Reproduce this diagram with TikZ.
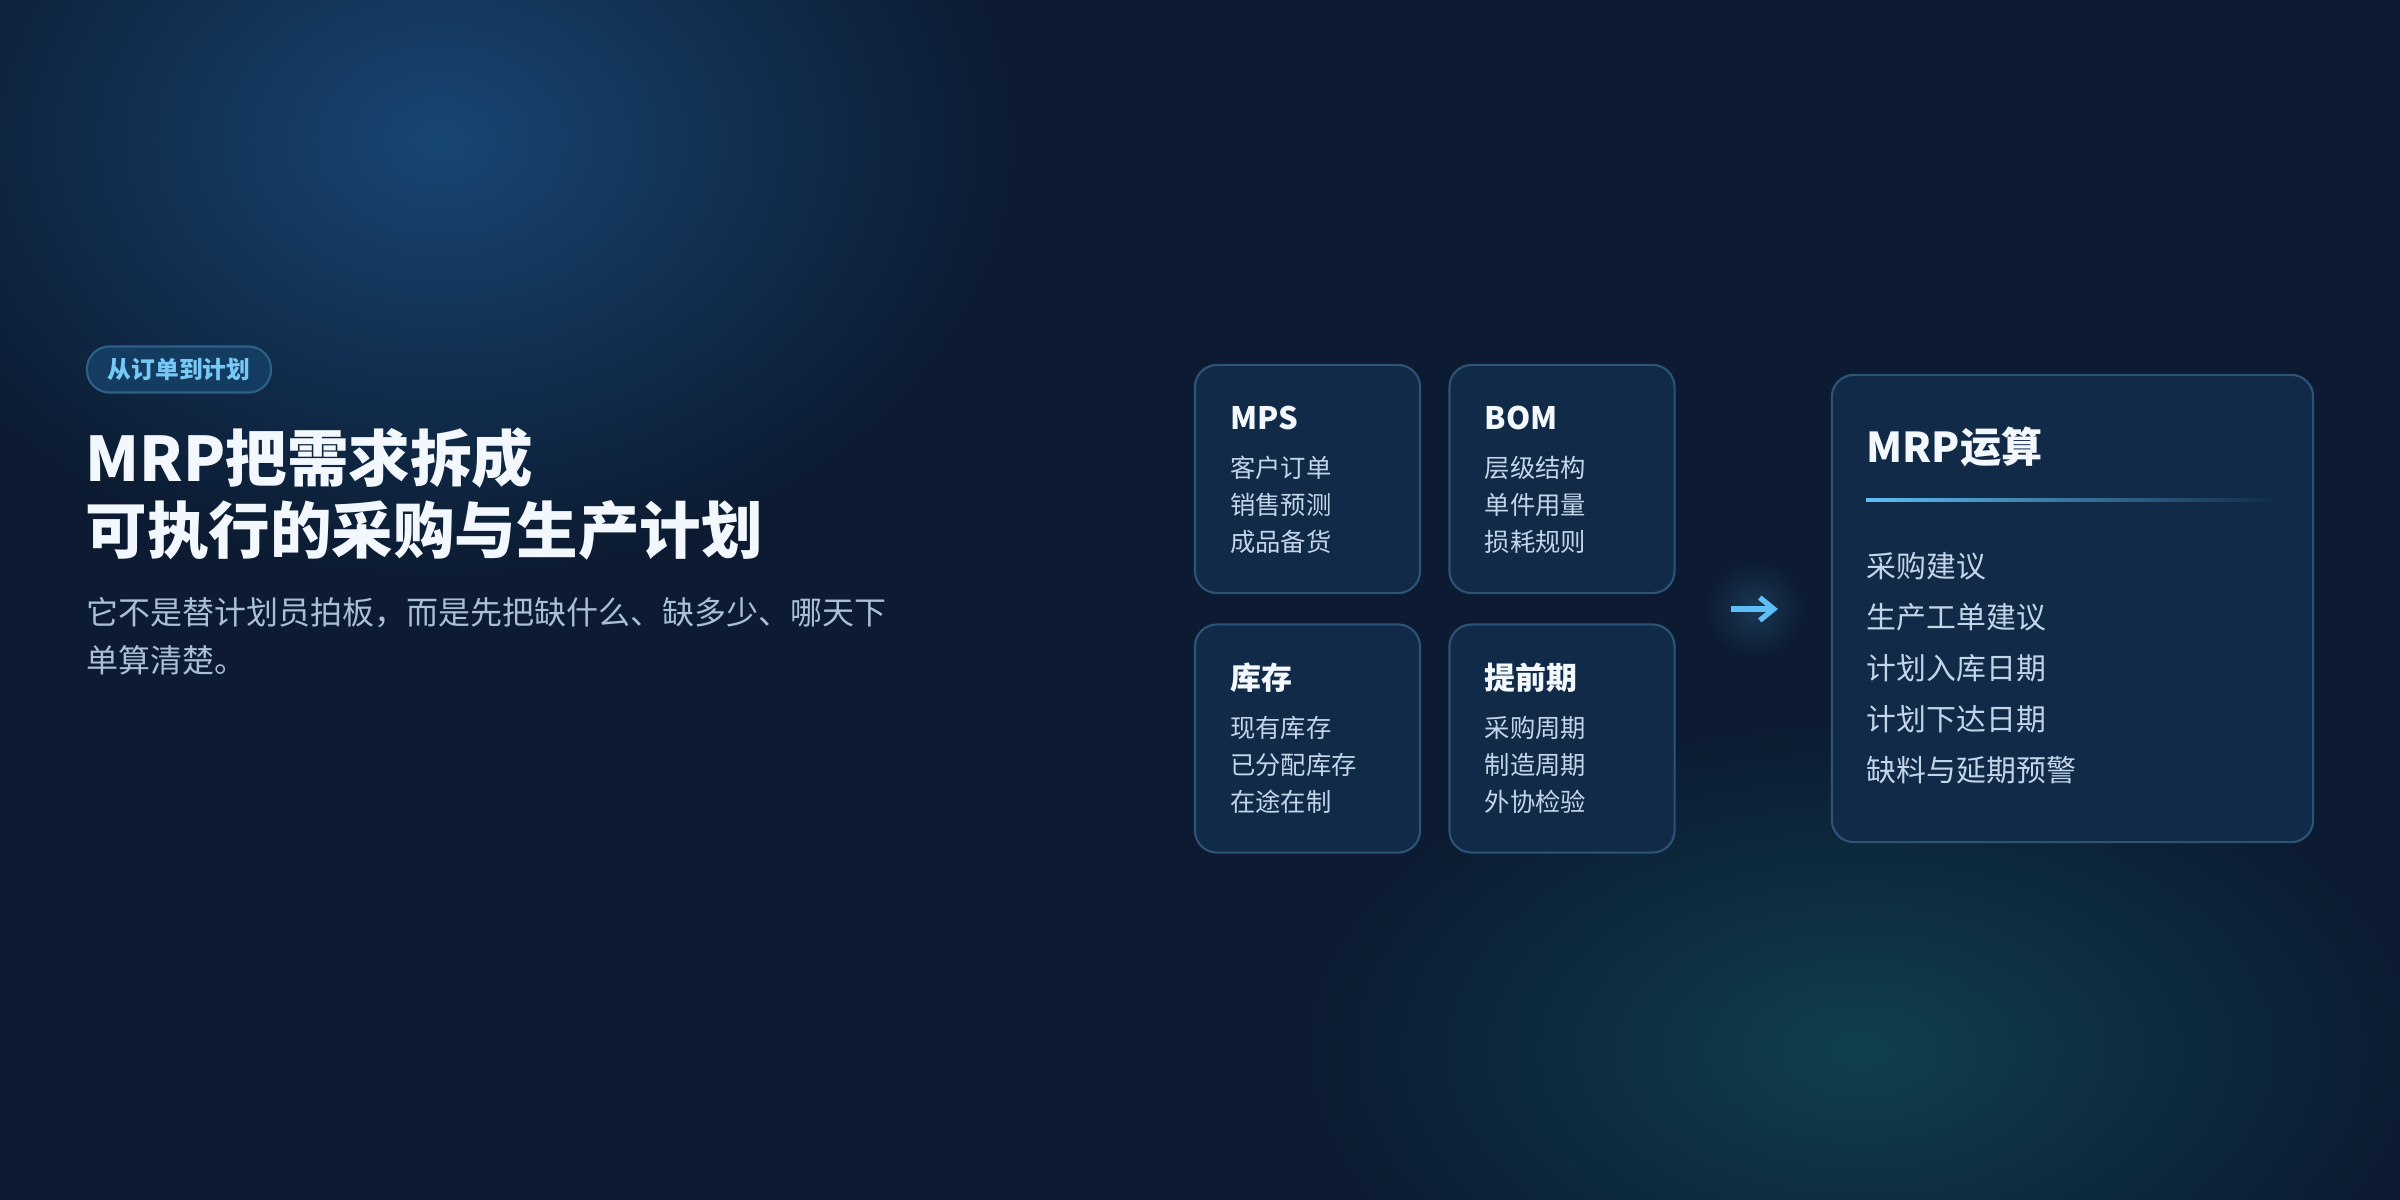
\documentclass[tikz,border=0pt]{standalone}
\usepackage{fontspec}
\setmainfont{Noto Sans CJK SC}
\usetikzlibrary{fadings,arrows.meta}
\tikzfading[name=glowfade,inner color=transparent!0,outer color=transparent!100]
\definecolor{bgnavy}{HTML}{0C1B31}
\definecolor{glowtl}{HTML}{184673}
\definecolor{glowbr}{HTML}{10404E}
\definecolor{cardfill}{HTML}{112A48}
\definecolor{cardline}{HTML}{2C5478}
\definecolor{pillfill}{HTML}{143C60}
\definecolor{pillline}{HTML}{2F6088}
\definecolor{accent}{HTML}{5EBEF6}
\definecolor{headtxt}{HTML}{F3F8FF}
\definecolor{subtxt}{HTML}{A9BED7}
\definecolor{itemtxt}{HTML}{C3D5E8}
\begin{document}
\begin{tikzpicture}[x=0.01cm,y=-0.01cm,
  card/.style={draw=cardline,fill=cardfill,line width=0.6pt,rounded corners=0.22cm,
    minimum width=2.25cm,minimum height=2.28cm,inner sep=0pt},
  cardtitle/.style={anchor=west,inner sep=0pt,text=headtxt,font=\fontsize{8.8}{10}\selectfont\bfseries},
  carditem/.style={anchor=west,inner sep=0pt,text=itemtxt,font=\fontsize{7.2}{9}\selectfont},
  flowarrow/.style={accent,line width=1.6pt,-{Straight Barb[length=4pt,width=6.5pt,line width=1.5pt]}}]
% background and glows
\useasboundingbox (0,0) rectangle (2400,1200);
\clip (0,0) rectangle (2400,1200);
\fill[bgnavy] (0,0) rectangle (2400,1200);
\fill[glowtl,path fading=glowfade] (440,140) ellipse (580 and 440);
\fill[glowbr,path fading=glowfade] (1860,1050) ellipse (560 and 330);
% left column
\node[draw=pillline,fill=pillfill,line width=0.6pt,rounded corners=0.225cm,
  minimum width=1.84cm,minimum height=0.45cm,text=accent!85!white,
  font=\fontsize{6.75}{8}\selectfont\bfseries] (tag) at (179,369.5) {从订单到计划};
\node[anchor=west,align=left,inner sep=0pt,text=headtxt,
  font=\fontsize{17.5}{20.5}\selectfont\bfseries] (title) at (85,494) {MRP把需求拆成\\可执行的采购与生产计划};
\node[anchor=west,align=left,inner sep=0pt,text=subtxt,
  font=\fontsize{9.1}{13.7}\selectfont] (lead) at (86,636) {它不是替计划员拍板，而是先把缺什么、缺多少、哪天下\\单算清楚。};
% input cards
\foreach \nm/\x/\y/\ttl/\items in {
  mps/1307.5/479/MPS/{客户订单,销售预测,成品备货},
  bom/1562/479/BOM/{层级结构,单件用量,损耗规则},
  stock/1307.5/738.5/库存/{现有库存,已分配库存,在途在制},
  lead/1562/738.5/提前期/{采购周期,制造周期,外协检验}} {
  \node[card] (\nm) at (\x,\y) {};
  \node[cardtitle] (\nm-t) at (\x-78,\y-61) {\ttl};
  \foreach \t [count=\k] in \items
    \node[carditem] (\nm-\k) at (\x-78,\y-48+37*\k) {\t};
}
% arrow
\fill[accent!60!bgnavy,opacity=0.3,path fading=glowfade] (1755,609) circle (50);
\coordinate (arr-s) at (1731,609);
\coordinate (arr-e) at (1778,609);
\draw[flowarrow] (arr-s) -- (arr-e);
% result card
\node[card,minimum width=4.81cm,minimum height=4.67cm] (mrp) at (2072.5,608.5) {};
\node[anchor=west,inner sep=0pt,text=headtxt,font=\fontsize{11.7}{13}\selectfont\bfseries] (mrp-t) at (1866,447) {MRP运算};
\shade[left color=accent,right color=cardfill] (1866,498.5) rectangle (2280,501.5);
\foreach \t [count=\k] in {采购建议,生产工单建议,计划入库日期,计划下达日期,缺料与延期预警}
  \node[carditem,font=\fontsize{8.5}{10}\selectfont] (mrp-\k) at (1866,515+51*\k) {\t};
\end{tikzpicture}
\end{document}
